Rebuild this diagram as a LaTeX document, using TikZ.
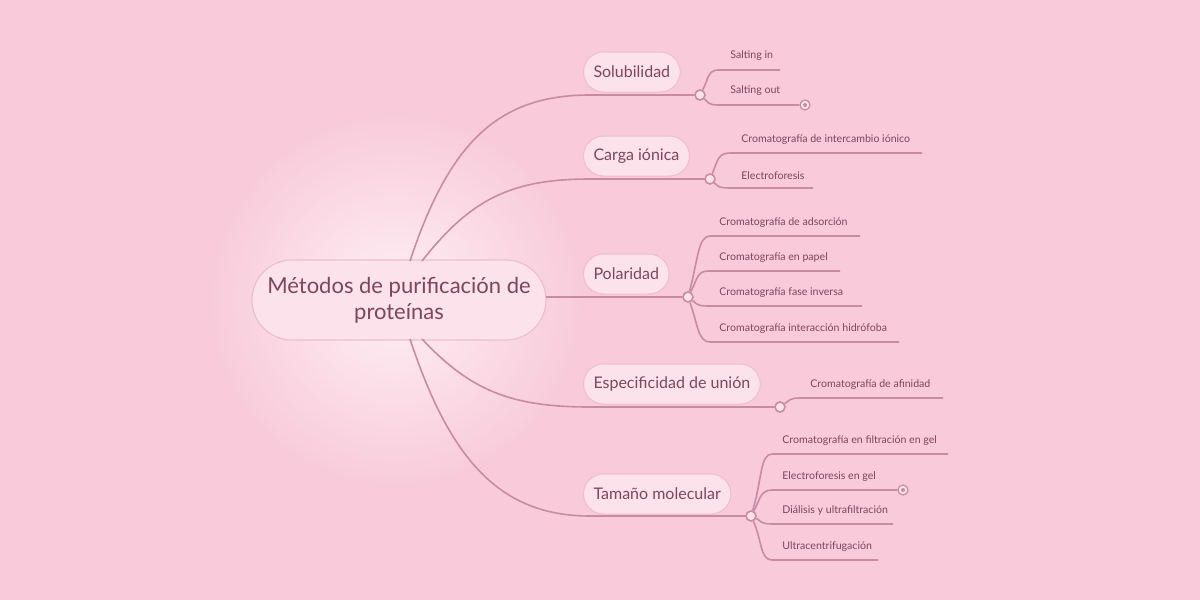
\documentclass[tikz,border=0pt]{standalone}
\usepackage{fontspec}
\setmainfont{Lato}
\definecolor{bg}{RGB}{248,202,218}
\definecolor{glow}{RGB}{254,240,245}
\definecolor{boxf}{RGB}{251,226,235}
\definecolor{boxd}{RGB}{238,190,206}
\definecolor{txt}{RGB}{125,70,92}
\definecolor{ln}{RGB}{200,140,162}
\tikzset{
 central/.style={draw=boxd,fill=boxf,rounded corners=20pt,line width=0.6pt,minimum width=147pt,minimum height=40pt,align=center,font=\fontsize{11}{13}\selectfont,text=txt},
 branch/.style={draw=boxd,fill=boxf,rounded corners=10pt,line width=0.5pt,minimum height=20pt,inner xsep=5pt,anchor=west,font=\fontsize{8}{10}\selectfont,text=txt},
 leaf/.style={anchor=south west,font=\fontsize{5.3}{6}\selectfont,text=txt,inner sep=0pt},
 conn/.style={draw=ln,line width=0.8pt},
 knob/.style={circle,draw=ln,fill=boxf,line width=0.8pt,minimum size=5pt,inner sep=0pt},
 dotknob/.style={circle,draw=ln,fill=boxf,line width=0.6pt,minimum size=5pt,inner sep=0pt,path picture={\fill[ln] (path picture bounding box.center) circle (1pt);}}
}
\begin{document}
\begin{tikzpicture}[x=0.5pt,y=-0.5pt]
\useasboundingbox (0,0) rectangle (1200,600);
\fill[bg] (0,0) rectangle (1200,600);
\shade[inner color=glow,outer color=bg] (395,300) circle (190);
% central
\node[central] (c) at (399,300) {Métodos de purificación de\\proteínas};
\coordinate (c1) at (410,261);
\coordinate (c2) at (422,261);
\coordinate (c3) at (546,297);
\coordinate (c4) at (422,339);
\coordinate (c5) at (410,339);
% branch knobs
\node[knob] (k1) at (700,95) {};
\node[knob] (k2) at (710,179) {};
\node[knob] (k3) at (688,297) {};
\node[knob] (k4) at (780,407) {};
\node[knob] (k5) at (751,516) {};
\draw[conn] (c1) .. controls (450,140) and (500,95) .. (590,95) -- (k1);
\draw[conn] (c2) .. controls (470,200) and (510,179) .. (590,179) -- (k2);
\draw[conn] (c3) -- (k3);
\draw[conn] (c4) .. controls (470,390) and (510,407) .. (590,407) -- (k4);
\draw[conn] (c5) .. controls (450,460) and (500,516) .. (590,516) -- (k5);
% branch nodes
\node[branch] (b1) at (583,72) {Solubilidad};
\node[branch] (b2) at (583,156) {Carga iónica};
\node[branch] (b3) at (583,274) {Polaridad};
\node[branch] (b4) at (583,384) {Especificidad de unión};
\node[branch] (b5) at (583,494) {Tamaño molecular};
% leaves
\node[leaf] (l11) at (730,61) {Salting in};
\coordinate (e11) at (780,70);
\draw[conn] (k1) .. controls (708,80) and (708,70) .. (718,70) -- (e11);
\node[leaf] (l12) at (730,96) {Salting out};
\node[dotknob] (d12) at (805,105) {};
\draw[conn] (k1) .. controls (708,102) and (708,105) .. (718,105) -- (d12);
\node[leaf] (l21) at (741,145) {Cromatografía de intercambio iónico};
\coordinate (e21) at (922,153);
\draw[conn] (k2) .. controls (718,160) and (718,153) .. (730,153) -- (e21);
\node[leaf] (l22) at (741,180) {Electroforesis};
\coordinate (e22) at (813,188);
\draw[conn] (k2) .. controls (718,186) and (718,188) .. (730,188) -- (e22);
\node[leaf] (l31) at (719,228) {Cromatografía de adsorción};
\coordinate (e31) at (860,236);
\draw[conn] (k3) .. controls (698,260) and (698,236) .. (710,236) -- (e31);
\node[leaf] (l32) at (719,263) {Cromatografía en papel};
\coordinate (e32) at (840,271);
\draw[conn] (k3) .. controls (697,280) and (697,271) .. (708,271) -- (e32);
\node[leaf] (l33) at (719,298) {Cromatografía fase inversa};
\coordinate (e33) at (862,306);
\draw[conn] (k3) .. controls (697,304) and (697,306) .. (708,306) -- (e33);
\node[leaf] (l34) at (719,334) {Cromatografía interacción hidrófoba};
\coordinate (e34) at (899,342);
\draw[conn] (k3) .. controls (698,325) and (698,342) .. (710,342) -- (e34);
\node[leaf] (l41) at (810,390) {Cromatografía de afinidad};
\coordinate (e41) at (943,398);
\draw[conn] (k4) .. controls (790,400) and (790,398) .. (800,398) -- (e41);
\node[leaf] (l51) at (782,446) {Cromatografía en filtración en gel};
\coordinate (e51) at (948,454);
\draw[conn] (k5) .. controls (762,480) and (760,454) .. (772,454) -- (e51);
\node[leaf] (l52) at (782,482) {Electroforesis en gel};
\node[dotknob] (d52) at (903,490) {};
\draw[conn] (k5) .. controls (760,500) and (760,490) .. (772,490) -- (d52);
\node[leaf] (l53) at (782,516) {Diálisis y ultrafiltración};
\coordinate (e53) at (893,524);
\draw[conn] (k5) .. controls (760,520) and (760,524) .. (772,524) -- (e53);
\node[leaf] (l54) at (782,552) {Ultracentrifugación};
\coordinate (e54) at (878,560);
\draw[conn] (k5) .. controls (762,540) and (760,560) .. (772,560) -- (e54);
\end{tikzpicture}
\end{document}
